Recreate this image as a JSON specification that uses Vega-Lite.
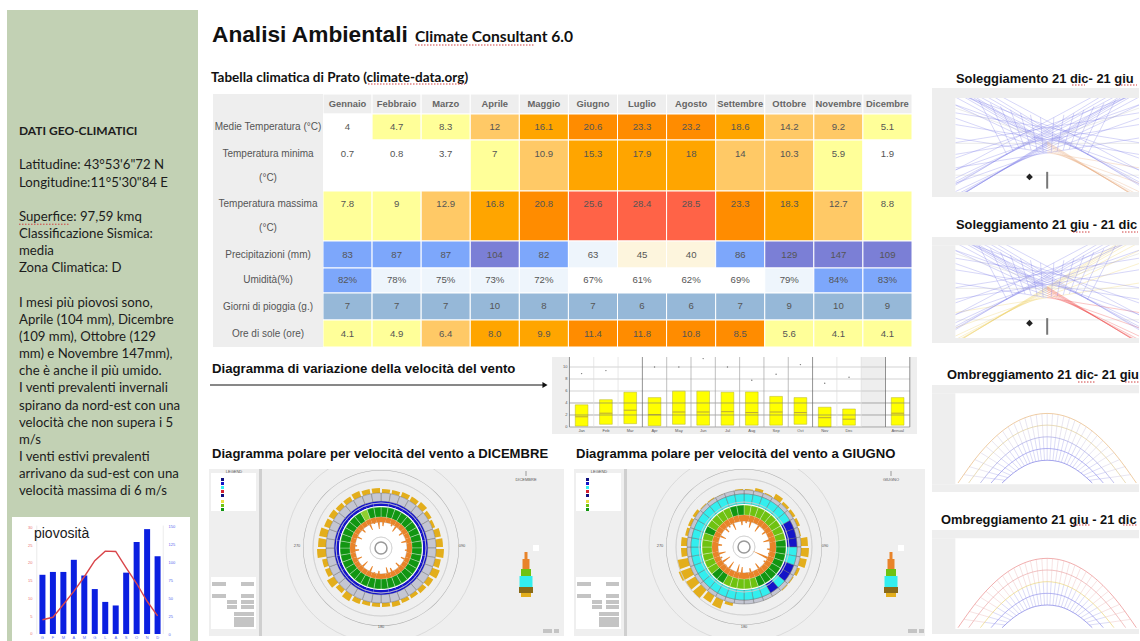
{
"$schema":"https://vega.github.io/schema/vega-lite/v6.json",
"padding":{"left":7,"top":10,"right":0,"bottom":0},
"background":"white",
"spacing":0,
"resolve":{"scale":{"color":"independent","fill":"independent"}},
"config":{"view":{"stroke":null},"concat":{"spacing":0},"text":{"font":"Liberation Sans"}},
"datasets":{
"cells":[
{"r":0,"s":1,"m":"Gennaio","v":"Gennaio","c":"h"},{"r":0,"s":1,"m":"Febbraio","v":"Febbraio","c":"h"},{"r":0,"s":1,"m":"Marzo","v":"Marzo","c":"h"},{"r":0,"s":1,"m":"Aprile","v":"Aprile","c":"h"},{"r":0,"s":1,"m":"Maggio","v":"Maggio","c":"h"},{"r":0,"s":1,"m":"Giugno","v":"Giugno","c":"h"},{"r":0,"s":1,"m":"Luglio","v":"Luglio","c":"h"},{"r":0,"s":1,"m":"Agosto","v":"Agosto","c":"h"},{"r":0,"s":1,"m":"Settembre","v":"Settembre","c":"h"},{"r":0,"s":1,"m":"Ottobre","v":"Ottobre","c":"h"},{"r":0,"s":1,"m":"Novembre","v":"Novembre","c":"h"},{"r":0,"s":1,"m":"Dicembre","v":"Dicembre","c":"h"},
{"r":1,"s":2,"m":"Gennaio","v":"4","c":"w"},{"r":1,"s":2,"m":"Febbraio","v":"4.7","c":"y"},{"r":1,"s":2,"m":"Marzo","v":"8.3","c":"y"},{"r":1,"s":2,"m":"Aprile","v":"12","c":"l"},{"r":1,"s":2,"m":"Maggio","v":"16.1","c":"o"},{"r":1,"s":2,"m":"Giugno","v":"20.6","c":"d"},{"r":1,"s":2,"m":"Luglio","v":"23.3","c":"d"},{"r":1,"s":2,"m":"Agosto","v":"23.2","c":"d"},{"r":1,"s":2,"m":"Settembre","v":"18.6","c":"o"},{"r":1,"s":2,"m":"Ottobre","v":"14.2","c":"l"},{"r":1,"s":2,"m":"Novembre","v":"9.2","c":"l"},{"r":1,"s":2,"m":"Dicembre","v":"5.1","c":"y"},
{"r":2,"s":3,"m":"Gennaio","v":"0.7","c":"w"},{"r":2,"s":3,"m":"Febbraio","v":"0.8","c":"w"},{"r":2,"s":3,"m":"Marzo","v":"3.7","c":"w"},{"r":2,"s":3,"m":"Aprile","v":"7","c":"y"},{"r":2,"s":3,"m":"Maggio","v":"10.9","c":"l"},{"r":2,"s":3,"m":"Giugno","v":"15.3","c":"o"},{"r":2,"s":3,"m":"Luglio","v":"17.9","c":"o"},{"r":2,"s":3,"m":"Agosto","v":"18","c":"o"},{"r":2,"s":3,"m":"Settembre","v":"14","c":"l"},{"r":2,"s":3,"m":"Ottobre","v":"10.3","c":"l"},{"r":2,"s":3,"m":"Novembre","v":"5.9","c":"y"},{"r":2,"s":3,"m":"Dicembre","v":"1.9","c":"w"},
{"r":3,"s":4,"m":"Gennaio","v":"7.8","c":"y"},{"r":3,"s":4,"m":"Febbraio","v":"9","c":"y"},{"r":3,"s":4,"m":"Marzo","v":"12.9","c":"l"},{"r":3,"s":4,"m":"Aprile","v":"16.8","c":"o"},{"r":3,"s":4,"m":"Maggio","v":"20.8","c":"d"},{"r":3,"s":4,"m":"Giugno","v":"25.6","c":"t"},{"r":3,"s":4,"m":"Luglio","v":"28.4","c":"t"},{"r":3,"s":4,"m":"Agosto","v":"28.5","c":"t"},{"r":3,"s":4,"m":"Settembre","v":"23.3","c":"d"},{"r":3,"s":4,"m":"Ottobre","v":"18.3","c":"o"},{"r":3,"s":4,"m":"Novembre","v":"12.7","c":"l"},{"r":3,"s":4,"m":"Dicembre","v":"8.8","c":"y"},
{"r":4,"s":5,"m":"Gennaio","v":"83","c":"b1"},{"r":4,"s":5,"m":"Febbraio","v":"87","c":"b1"},{"r":4,"s":5,"m":"Marzo","v":"87","c":"b1"},{"r":4,"s":5,"m":"Aprile","v":"104","c":"b2"},{"r":4,"s":5,"m":"Maggio","v":"82","c":"b1"},{"r":4,"s":5,"m":"Giugno","v":"63","c":"p"},{"r":4,"s":5,"m":"Luglio","v":"45","c":"cr"},{"r":4,"s":5,"m":"Agosto","v":"40","c":"cr"},{"r":4,"s":5,"m":"Settembre","v":"86","c":"b1"},{"r":4,"s":5,"m":"Ottobre","v":"129","c":"b2"},{"r":4,"s":5,"m":"Novembre","v":"147","c":"b2"},{"r":4,"s":5,"m":"Dicembre","v":"109","c":"b2"},
{"r":5,"s":6,"m":"Gennaio","v":"82%","c":"b1"},{"r":5,"s":6,"m":"Febbraio","v":"78%","c":"p"},{"r":5,"s":6,"m":"Marzo","v":"75%","c":"p"},{"r":5,"s":6,"m":"Aprile","v":"73%","c":"p"},{"r":5,"s":6,"m":"Maggio","v":"72%","c":"p"},{"r":5,"s":6,"m":"Giugno","v":"67%","c":"w"},{"r":5,"s":6,"m":"Luglio","v":"61%","c":"w"},{"r":5,"s":6,"m":"Agosto","v":"62%","c":"w"},{"r":5,"s":6,"m":"Settembre","v":"69%","c":"w"},{"r":5,"s":6,"m":"Ottobre","v":"79%","c":"p"},{"r":5,"s":6,"m":"Novembre","v":"84%","c":"b1"},{"r":5,"s":6,"m":"Dicembre","v":"83%","c":"b1"},
{"r":6,"s":7,"m":"Gennaio","v":"7","c":"g"},{"r":6,"s":7,"m":"Febbraio","v":"7","c":"g"},{"r":6,"s":7,"m":"Marzo","v":"7","c":"g"},{"r":6,"s":7,"m":"Aprile","v":"10","c":"g"},{"r":6,"s":7,"m":"Maggio","v":"8","c":"g"},{"r":6,"s":7,"m":"Giugno","v":"7","c":"g"},{"r":6,"s":7,"m":"Luglio","v":"6","c":"g"},{"r":6,"s":7,"m":"Agosto","v":"6","c":"g"},{"r":6,"s":7,"m":"Settembre","v":"7","c":"g"},{"r":6,"s":7,"m":"Ottobre","v":"9","c":"g"},{"r":6,"s":7,"m":"Novembre","v":"10","c":"g"},{"r":6,"s":7,"m":"Dicembre","v":"9","c":"g"},
{"r":7,"s":8,"m":"Gennaio","v":"4.1","c":"y"},{"r":7,"s":8,"m":"Febbraio","v":"4.9","c":"y"},{"r":7,"s":8,"m":"Marzo","v":"6.4","c":"l"},{"r":7,"s":8,"m":"Aprile","v":"8.0","c":"o"},{"r":7,"s":8,"m":"Maggio","v":"9.9","c":"o"},{"r":7,"s":8,"m":"Giugno","v":"11.4","c":"d"},{"r":7,"s":8,"m":"Luglio","v":"11.8","c":"d"},{"r":7,"s":8,"m":"Agosto","v":"10.8","c":"d"},{"r":7,"s":8,"m":"Settembre","v":"8.5","c":"d"},{"r":7,"s":8,"m":"Ottobre","v":"5.6","c":"y"},{"r":7,"s":8,"m":"Novembre","v":"4.1","c":"y"},{"r":7,"s":8,"m":"Dicembre","v":"4.1","c":"y"}
],
"rain":[
{"n":1,"l":"G","p":83,"c":4},{"n":2,"l":"F","p":87,"c":4.7},{"n":3,"l":"M","p":87,"c":8.3},{"n":4,"l":"A","p":104,"c":12},{"n":5,"l":"M","p":82,"c":16.1},{"n":6,"l":"G","p":63,"c":20.6},{"n":7,"l":"L","p":45,"c":23.3},{"n":8,"l":"A","p":40,"c":23.2},{"n":9,"l":"S","p":86,"c":18.6},{"n":10,"l":"O","p":129,"c":14.2},{"n":11,"l":"N","p":147,"c":9.2},{"n":12,"l":"D","p":109,"c":5.1}
],
"wind":[
{"n":1,"l":"Jan","lo":0.15,"hi":3.7,"med":1.7,"out":8.9},{"n":2,"l":"Feb","lo":0.45,"hi":4.55,"med":2.3,"out":9.4},{"n":3,"l":"Mar","lo":0.55,"hi":5.8,"med":2.8},{"n":4,"l":"Apr","lo":0.2,"hi":4.9,"med":2.05,"out":10},{"n":5,"l":"May","lo":0.45,"hi":6,"med":2.5,"out":10},{"n":6,"l":"Jun","lo":0.3,"hi":6,"med":2.5,"out":11.4},{"n":7,"l":"Jul","lo":0.3,"hi":5.8,"med":2.55,"out":10},{"n":8,"l":"Aug","lo":0.3,"hi":5.85,"med":2.4,"out":7.8},{"n":9,"l":"Sep","lo":0.3,"hi":5.1,"med":2.5,"out":8.8},{"n":10,"l":"Oct","lo":0.45,"hi":4.9,"med":2.4,"out":10.4},{"n":11,"l":"Nov","lo":0,"hi":3.3,"med":1.55,"out":7.3},{"n":12,"l":"Dec","lo":0.3,"hi":3,"med":1.3,"out":8.3},{"n":14,"l":"Annual","lo":0.3,"hi":4.9,"med":2.3}
],
"dic":[
{"d":0,"e":10,"gold":59,"t":22,"g":"s","b":"b"},{"d":10,"e":20,"gold":59,"t":27,"g":"s","b":"b"},{"d":20,"e":30,"gold":60,"t":24,"g":"s","b":"b"},{"d":30,"e":40,"gold":60,"t":20,"g":"s","b":"b"},{"d":40,"e":50,"gold":61,"t":27,"g":"s","b":"b"},{"d":50,"e":60,"gold":59,"t":22,"g":"s","b":"b"},{"d":60,"e":70,"gold":58,"t":26,"g":"s","b":"b"},{"d":70,"e":80,"gold":61,"t":21,"g":"s","b":"b"},{"d":80,"e":90,"gold":62,"t":27,"g":"s","b":"b"},{"d":90,"e":100,"gold":63,"t":24,"g":"s","b":"b"},{"d":100,"e":110,"gold":61,"t":26,"g":"s","b":"b"},{"d":110,"e":120,"gold":63,"t":22,"g":"s","b":"b"},{"d":120,"e":130,"gold":61,"t":27,"g":"s","b":"b"},{"d":130,"e":140,"gold":60,"t":21,"g":"s","b":"b"},{"d":140,"e":150,"gold":59,"t":26,"g":"s","b":"b"},{"d":150,"e":160,"gold":59,"t":22,"g":"s","b":"b"},{"d":160,"e":170,"gold":60,"t":20,"g":"s","b":"b"},{"d":170,"e":180,"gold":59,"t":26,"g":"s","b":"b"},{"d":180,"e":190,"gold":59,"t":23,"g":"s","b":"b"},{"d":190,"e":200,"gold":59,"t":25,"g":"s","b":"b"},{"d":200,"e":210,"gold":60,"t":20,"g":"s","b":"b"},{"d":210,"e":220,"gold":62,"t":27,"g":"s","b":"b"},{"d":220,"e":230,"gold":60,"t":19,"g":"s","b":"b"},{"d":230,"e":240,"gold":63,"t":26,"g":"s","b":"b"},{"d":240,"e":250,"gold":60,"t":21,"g":"s","b":"b"},{"d":250,"e":260,"gold":60,"t":27,"g":"s","b":"b"},{"d":260,"e":270,"gold":64,"t":22,"g":"s","b":"b"},{"d":270,"e":280,"gold":63,"t":24,"g":"s","b":"b"},{"d":280,"e":290,"gold":63,"t":27,"g":"s","b":"b"},{"d":290,"e":300,"gold":61,"t":21,"g":"s","b":"b"},{"d":300,"e":310,"gold":61,"t":26,"g":"s","b":"b"},{"d":310,"e":320,"gold":60,"t":22,"g":"s","b":"b"},{"d":320,"e":330,"gold":60,"t":27,"g":"s","b":"b"},{"d":330,"e":340,"gold":61,"t":20,"g":"c","b":"b"},{"d":340,"e":350,"gold":60,"t":25,"g":"s","b":"b"},{"d":350,"e":360,"gold":60,"t":19,"g":"s","b":"b"}
],
"giu":[
{"d":0,"e":10,"gold":58,"t":24,"g":"c","b":"a"},{"d":10,"e":20,"gold":60,"t":20,"g":"c","b":"a"},{"d":20,"e":30,"gold":58,"t":27,"g":"c","b":"a"},{"d":30,"e":40,"gold":62,"t":19,"g":"c","b":"a"},{"d":40,"e":50,"gold":60,"t":26,"g":"c","b":"a"},{"d":50,"e":60,"gold":60,"t":22,"g":"c","b":"a"},{"d":60,"e":70,"gold":60,"t":27,"g":"c","b":"b"},{"d":70,"e":80,"gold":58,"t":20,"g":"c","b":"b"},{"d":80,"e":90,"gold":64,"t":26,"g":"s","b":"b"},{"d":90,"e":100,"gold":65,"t":23,"g":"s","b":"a"},{"d":100,"e":110,"gold":64,"t":25,"g":"s","b":"a"},{"d":110,"e":120,"gold":60,"t":9,"g":"s","b":"b"},{"d":120,"e":130,"gold":58,"t":24,"g":"s","b":"b"},{"d":130,"e":140,"gold":58,"t":26,"g":"s","b":"a"},{"d":140,"e":150,"gold":55,"t":20,"g":"s","b":"b"},{"d":150,"e":160,"gold":55,"t":27,"g":"s","b":"a"},{"d":160,"e":170,"gold":57,"t":22,"g":"c","b":"a"},{"d":170,"e":180,"gold":57,"t":27,"g":"c","b":"a"},{"d":180,"e":190,"gold":57,"t":20,"g":"c","b":"a"},{"d":190,"e":200,"gold":60,"t":18,"g":"c","b":"a"},{"d":200,"e":210,"gold":66,"t":26,"g":"c","b":"a"},{"d":210,"e":220,"gold":65,"t":18,"g":"s","b":"a"},{"d":220,"e":230,"gold":68,"t":25,"g":"s","b":"a"},{"d":230,"e":240,"gold":68,"t":17,"g":"c","b":"a"},{"d":240,"e":250,"gold":70,"t":24,"g":"c","b":"a"},{"d":250,"e":260,"gold":68,"t":19,"g":"c","b":"a"},{"d":260,"e":270,"gold":63,"t":27,"g":"c","b":"a"},{"d":270,"e":280,"gold":63,"t":22,"g":"c","b":"a"},{"d":280,"e":290,"gold":60,"t":26,"g":"c","b":"a"},{"d":290,"e":300,"gold":60,"t":20,"g":"s","b":"a"},{"d":300,"e":310,"gold":60,"t":27,"g":"c","b":"a"},{"d":310,"e":320,"gold":58,"t":21,"g":"c","b":"a"},{"d":320,"e":330,"gold":58,"t":24,"g":"c","b":"a"},{"d":330,"e":340,"gold":56,"t":19,"g":"c","b":"a"},{"d":340,"e":350,"gold":57,"t":26,"g":"s","b":"a"},{"d":350,"e":360,"gold":58,"t":22,"g":"s","b":"a"}
],
"ui":[
{"a":50,"b":0,"c":53,"d":167,"k":"strip"},{"a":2,"b":4,"c":47,"d":42,"k":"white"},{"a":2,"b":108,"c":47,"d":160,"k":"white"},
{"a":3,"b":113,"c":17,"d":117,"k":"btn"},{"a":32,"b":113,"c":45,"d":117,"k":"btn"},{"a":3,"b":125,"c":17,"d":129,"k":"btn"},{"a":32,"b":125,"c":45,"d":129,"k":"btn"},{"a":18,"b":131,"c":28,"d":135,"k":"btn"},{"a":32,"b":131,"c":45,"d":135,"k":"btn"},{"a":18,"b":136,"c":28,"d":140,"k":"btn"},{"a":32,"b":136,"c":45,"d":140,"k":"btn"},{"a":25,"b":143,"c":45,"d":147,"k":"btn"},{"a":25,"b":148,"c":45,"d":158,"k":"btn"},
{"a":12,"b":9,"c":15,"d":12,"k":"navy"},{"a":12,"b":13,"c":15,"d":16,"k":"blue"},{"a":12,"b":17,"c":15,"d":20,"k":"cyan"},{"a":12,"b":21,"c":15,"d":24,"k":"red"},{"a":12,"b":25,"c":15,"d":28,"k":"navy"},{"a":12,"b":31,"c":15,"d":34,"k":"yel"},{"a":12,"b":35,"c":15,"d":38,"k":"lime"},{"a":12,"b":39,"c":15,"d":42,"k":"grn"},
{"a":315.5,"b":83,"c":318.5,"d":90,"k":"ora"},{"a":313.5,"b":90,"c":320.5,"d":100,"k":"ora"},{"a":312,"b":100,"c":322,"d":107,"k":"lime"},{"a":310.5,"b":107,"c":323.5,"d":118,"k":"cyan"},{"a":310,"b":118,"c":324,"d":124,"k":"brn"},{"a":312,"b":124,"c":322,"d":128,"k":"gold"},{"a":324,"b":76,"c":330,"d":82,"k":"white"},{"a":316,"b":2,"c":318,"d":7,"k":"btn"},{"a":334,"b":160,"c":343,"d":164,"k":"btn"},{"a":345,"b":160,"c":350,"d":164,"k":"btn"}
],
"rings":[{"r":11},{"r":15},{"r":19},{"r":23},{"r":27}],
"sol":[
{"a":-275,"b":308,"c":275,"d":219,"k":"l"},{"a":-275,"b":354,"c":275,"d":160,"k":"l"},{"a":-275,"b":379,"c":275,"d":121,"k":"l"},{"a":-275,"b":390,"c":275,"d":97,"k":"l"},{"a":-275,"b":396,"c":275,"d":82,"k":"l"},{"a":-275,"b":399,"c":275,"d":73,"k":"l"},{"a":-275,"b":400,"c":275,"d":66,"k":"l"},{"a":-275,"b":401,"c":275,"d":60,"k":"l"},
{"a":275,"b":308,"c":0,"d":263,"k":"r"},{"a":275,"b":354,"c":0,"d":257,"k":"r"},{"a":275,"b":379,"c":0,"d":250,"k":"r"},{"a":275,"b":390,"c":0,"d":244,"k":"r"},{"a":275,"b":396,"c":0,"d":239,"k":"r"},{"a":275,"b":399,"c":0,"d":236,"k":"r"},{"a":275,"b":400,"c":0,"d":233,"k":"r"},{"a":275,"b":401,"c":0,"d":230,"k":"r"},
{"a":0,"b":263,"c":-275,"d":219,"k":"u"},{"a":0,"b":257,"c":-275,"d":160,"k":"u"},{"a":0,"b":250,"c":-275,"d":121,"k":"u"},{"a":0,"b":244,"c":-275,"d":97,"k":"u"},{"a":0,"b":239,"c":-275,"d":82,"k":"u"},{"a":0,"b":236,"c":-275,"d":73,"k":"u"},{"a":0,"b":233,"c":-275,"d":66,"k":"u"},{"a":0,"b":230,"c":-275,"d":60,"k":"u"},
{"a":-275,"b":268,"c":275,"d":179,"k":"u"},{"a":-275,"b":314,"c":275,"d":120,"k":"u"},{"a":-275,"b":339,"c":275,"d":81,"k":"u"},{"a":-275,"b":350,"c":275,"d":57,"k":"u"},{"a":-275,"b":356,"c":275,"d":42,"k":"u"},{"a":-275,"b":360,"c":275,"d":26,"k":"u"},
{"a":275,"b":268,"c":-275,"d":179,"k":"u"},{"a":275,"b":314,"c":-275,"d":120,"k":"u"},{"a":275,"b":339,"c":-275,"d":81,"k":"u"},{"a":275,"b":350,"c":-275,"d":57,"k":"u"},{"a":275,"b":356,"c":-275,"d":42,"k":"u"},{"a":275,"b":360,"c":-275,"d":26,"k":"u"},
{"a":-275,"b":233,"c":275,"d":144,"k":"u"},{"a":-275,"b":279,"c":275,"d":85,"k":"u"},{"a":-275,"b":315,"c":275,"d":22,"k":"u"},{"a":275,"b":233,"c":-275,"d":144,"k":"u"},{"a":275,"b":279,"c":-275,"d":85,"k":"u"},{"a":275,"b":315,"c":-275,"d":22,"k":"u"},
{"a":-20,"b":158,"c":-12,"d":262,"k":"u"},{"a":20,"b":158,"c":12,"d":262,"k":"u"},{"a":-50,"b":150,"c":-30,"d":258,"k":"u"},{"a":50,"b":150,"c":30,"d":258,"k":"u"},{"a":-80,"b":145,"c":-48,"d":255,"k":"u"},{"a":80,"b":145,"c":48,"d":255,"k":"u"},{"a":-110,"b":135,"c":-66,"d":252,"k":"u"},{"a":110,"b":135,"c":66,"d":252,"k":"u"},{"a":-140,"b":125,"c":-84,"d":250,"k":"u"},{"a":140,"b":125,"c":84,"d":250,"k":"u"},{"a":-170,"b":115,"c":-102,"d":258,"k":"u"},{"a":170,"b":115,"c":102,"d":258,"k":"u"},{"a":-205,"b":105,"c":-120,"d":270,"k":"u"},{"a":205,"b":105,"c":120,"d":270,"k":"u"},
{"a":-275,"b":235,"c":275,"d":235,"k":"n"},{"a":-275,"b":130,"c":-40,"d":210,"k":"n"},{"a":275,"b":130,"c":40,"d":210,"k":"n"},{"a":-275,"b":330,"c":275,"d":330,"k":"n"}
],
"arch":[
{"n":"A","x":-267,"y":368},{"n":"A","x":-200,"y":277},{"n":"A","x":-134,"y":212},{"n":"A","x":-67,"y":173},{"n":"A","x":0,"y":160},{"n":"A","x":67,"y":173},{"n":"A","x":134,"y":212},{"n":"A","x":200,"y":277},{"n":"A","x":267,"y":368},
{"n":"B","x":-235,"y":368},{"n":"B","x":-176,"y":292},{"n":"B","x":-118,"y":238},{"n":"B","x":-59,"y":206},{"n":"B","x":0,"y":195},{"n":"B","x":59,"y":206},{"n":"B","x":118,"y":238},{"n":"B","x":176,"y":292},{"n":"B","x":235,"y":368},
{"n":"C","x":-200,"y":368},{"n":"C","x":-150,"y":308},{"n":"C","x":-100,"y":265},{"n":"C","x":-50,"y":239},{"n":"C","x":0,"y":230},{"n":"C","x":50,"y":239},{"n":"C","x":100,"y":265},{"n":"C","x":150,"y":308},{"n":"C","x":200,"y":368},
{"n":"D","x":-168,"y":368},{"n":"D","x":-126,"y":323},{"n":"D","x":-84,"y":291},{"n":"D","x":-42,"y":271},{"n":"D","x":0,"y":265},{"n":"D","x":42,"y":271},{"n":"D","x":84,"y":291},{"n":"D","x":126,"y":323},{"n":"D","x":168,"y":368},
{"n":"E","x":-135,"y":368},{"n":"E","x":-101,"y":338},{"n":"E","x":-68,"y":317},{"n":"E","x":-34,"y":304},{"n":"E","x":0,"y":300},{"n":"E","x":34,"y":304},{"n":"E","x":68,"y":317},{"n":"E","x":101,"y":338},{"n":"E","x":135,"y":368}
],
"spokes":[
{"a":0,"b":160,"c":0,"d":230,"k":"su"},{"a":33,"b":163,"c":25,"d":232,"k":"su"},{"a":67,"b":173,"c":50,"d":239,"k":"su"},{"a":100,"b":189,"c":75,"d":249,"k":"su"},{"a":134,"b":212,"c":100,"d":265,"k":"su"},{"a":167,"b":241,"c":125,"d":284,"k":"su"},{"a":200,"b":277,"c":150,"d":308,"k":"su"},{"a":234,"b":319,"c":175,"d":336,"k":"su"},
{"a":-33,"b":163,"c":-25,"d":232,"k":"su"},{"a":-67,"b":173,"c":-50,"d":239,"k":"su"},{"a":-100,"b":189,"c":-75,"d":249,"k":"su"},{"a":-134,"b":212,"c":-100,"d":265,"k":"su"},{"a":-167,"b":241,"c":-125,"d":284,"k":"su"},{"a":-200,"b":277,"c":-150,"d":308,"k":"su"},{"a":-234,"b":319,"c":-175,"d":336,"k":"su"},
{"a":16,"b":161,"c":12,"d":231,"k":"su"},{"a":50,"b":168,"c":37,"d":235,"k":"su"},{"a":83,"b":181,"c":62,"d":244,"k":"su"},{"a":117,"b":200,"c":87,"d":257,"k":"su"},{"a":150,"b":226,"c":112,"d":274,"k":"su"},{"a":183,"b":259,"c":137,"d":296,"k":"su"},{"a":217,"b":298,"c":162,"d":322,"k":"su"},{"a":250,"b":343,"c":187,"d":352,"k":"su"},
{"a":-16,"b":161,"c":-12,"d":231,"k":"su"},{"a":-50,"b":168,"c":-37,"d":235,"k":"su"},{"a":-83,"b":181,"c":-62,"d":244,"k":"su"},{"a":-117,"b":200,"c":-87,"d":257,"k":"su"},{"a":-150,"b":226,"c":-112,"d":274,"k":"su"},{"a":-183,"b":259,"c":-137,"d":296,"k":"su"},{"a":-217,"b":298,"c":-162,"d":322,"k":"su"},{"a":-250,"b":343,"c":-187,"d":352,"k":"su"},
{"a":0,"b":230,"c":0,"d":300,"k":"sl"},{"a":25,"b":232,"c":17,"d":301,"k":"sl"},{"a":50,"b":239,"c":34,"d":304,"k":"sl"},{"a":75,"b":249,"c":51,"d":310,"k":"sl"},{"a":100,"b":265,"c":68,"d":317,"k":"sl"},{"a":125,"b":284,"c":84,"d":327,"k":"sl"},{"a":150,"b":308,"c":101,"d":338,"k":"sl"},{"a":175,"b":336,"c":118,"d":352,"k":"sl"},
{"a":-25,"b":232,"c":-17,"d":301,"k":"sl"},{"a":-50,"b":239,"c":-34,"d":304,"k":"sl"},{"a":-75,"b":249,"c":-51,"d":310,"k":"sl"},{"a":-100,"b":265,"c":-68,"d":317,"k":"sl"},{"a":-125,"b":284,"c":-84,"d":327,"k":"sl"},{"a":-150,"b":308,"c":-101,"d":338,"k":"sl"},{"a":-175,"b":336,"c":-118,"d":352,"k":"sl"},
{"a":12,"b":231,"c":8,"d":300,"k":"sl"},{"a":37,"b":235,"c":25,"d":302,"k":"sl"},{"a":62,"b":244,"c":42,"d":307,"k":"sl"},{"a":87,"b":257,"c":59,"d":313,"k":"sl"},{"a":112,"b":274,"c":76,"d":322,"k":"sl"},{"a":137,"b":296,"c":92,"d":332,"k":"sl"},{"a":162,"b":322,"c":109,"d":345,"k":"sl"},{"a":187,"b":352,"c":126,"d":360,"k":"sl"},
{"a":-12,"b":231,"c":-8,"d":300,"k":"sl"},{"a":-37,"b":235,"c":-25,"d":302,"k":"sl"},{"a":-62,"b":244,"c":-42,"d":307,"k":"sl"},{"a":-87,"b":257,"c":-59,"d":313,"k":"sl"},{"a":-112,"b":274,"c":-76,"d":322,"k":"sl"},{"a":-137,"b":296,"c":-92,"d":332,"k":"sl"},{"a":-162,"b":322,"c":-109,"d":345,"k":"sl"},{"a":-187,"b":352,"c":-126,"d":360,"k":"sl"}
]
},
"hconcat":[
{"spacing":0,"resolve":{"scale":{"color":"independent","fill":"independent"}},"vconcat":[
 {"width":191,"height":507,"view":{"fill":"#c2d1b4"},
  "layer":[
  {"data":{"values":[{"t":"Latitudine: 43°53'6\"72 N","n":2,"c":0},{"t":"Longitudine:11°5'30\"84 E","n":3,"c":0},{"t":"Superfice: 97,59 kmq","n":5,"c":0},{"t":"Classificazione Sismica:","n":6,"c":0},{"t":"media","n":7,"c":0},{"t":"Zona Climatica: D","n":8,"c":0},{"t":"I mesi più piovosi sono,","n":10,"c":0},{"t":"Aprile (104 mm), Dicembre","n":11,"c":0},{"t":"(109 mm), Ottobre (129","n":12,"c":0},{"t":"mm) e Novembre 147mm),","n":13,"c":0},{"t":"che è anche il più umido.","n":14,"c":0},{"t":"I venti prevalenti invernali","n":15,"c":0},{"t":"spirano da nord-est con una","n":16,"c":0},{"t":"velocità che non supera i 5","n":17,"c":0},{"t":"m/s","n":18,"c":0},{"t":"I venti estivi prevalenti","n":19,"c":0},{"t":"arrivano da sud-est con una","n":20,"c":0},{"t":"velocità massima di 6 m/s","n":21,"c":0}]},
  "mark":{"type":"text","font":"Lato","fontSize":13.2,"align":"left","baseline":"middle","color":"#1c1c1c"},
  "encoding":{"text":{"field":"t"},
   "x":{"field":"c","type":"quantitative","scale":{"domain":[-12,179]},"axis":null},
   "y":{"field":"n","type":"quantitative","scale":{"domain":[22.5,-7.06]},"axis":null}}},
  {"data":{"values":[{"t":"DATI GEO-CLIMATICI","n":0,"c":0}]},
  "mark":{"type":"text","font":"Lato","fontWeight":700,"fontSize":12,"align":"left","baseline":"middle","color":"#1c1c1c"},
  "encoding":{"text":{"field":"t"},
   "x":{"field":"c","type":"quantitative","scale":{"domain":[-12,179]},"axis":null},
   "y":{"field":"n","type":"quantitative","scale":{"domain":[22.5,-7.06]},"axis":null}}},
  {"data":{"values":[{}]},"mark":{"type":"rule","color":"#d04040","strokeWidth":1,"strokeDash":[1.5,1.5]},"encoding":{"x":{"datum":0,"type":"quantitative","scale":{"domain":[-12,179]},"axis":null},"x2":{"datum":51},"y":{"datum":5.43,"type":"quantitative","scale":{"domain":[22.5,-7.06]},"axis":null}}}
  ]},
 {"spacing":0,"resolve":{"scale":{"color":"independent","fill":"independent"}},"hconcat":[
  {"width":5,"height":124,"data":{"values":[{}]},"mark":{"type":"rect","color":"#c2d1b4"},"encoding":{}},
  {"width":178,"height":124,"view":{"fill":"white"},"data":{"name":"rain"},
   "resolve":{"scale":{"y":"independent"}},
   "layer":[
    {"data":{"values":[{"v":0.46},{"v":12.54}]},"mark":{"type":"rule","color":"#dddddd","strokeWidth":0.6},"encoding":{"x":{"field":"v","type":"quantitative","scale":{"domain":[-1.43,14.62]},"axis":null},"y":{"datum":0,"type":"quantitative","scale":{"domain":[-9.8,164]},"axis":null},"y2":{"datum":152}}},
    {"mark":{"type":"bar","orient":"vertical","size":6,"color":"#0b1fe0"},"encoding":{"x":{"field":"n","type":"quantitative","scale":{"domain":[-1.43,14.62]},"axis":null},
     "y":{"field":"p","type":"quantitative","scale":{"domain":[-9.8,164]},"axis":{"values":[0,25,50,75,100,125,150],"orient":"right","offset":-22,"title":null,"domain":false,"ticks":false,"grid":false,"labelFontSize":4,"labelColor":"#5566ee","labelPadding":0}}}},
    {"mark":{"type":"line","color":"#d9454a","strokeWidth":1.4},"encoding":{"x":{"field":"n","type":"quantitative","scale":{"domain":[-1.43,14.62]},"axis":null},
     "y":{"field":"c","type":"quantitative","scale":{"domain":[-1.97,32.9]},"axis":{"values":[0,5,10,15,20,25,30],"orient":"left","offset":-20,"title":null,"domain":false,"ticks":false,"grid":false,"labelFontSize":4,"labelColor":"#e87070","labelPadding":0}}}},
    {"mark":{"type":"text","fontSize":4,"color":"#5566ee"},"encoding":{"text":{"field":"l"},"x":{"field":"n","type":"quantitative","scale":{"domain":[-1.43,14.62]},"axis":null},"y":{"datum":-5,"type":"quantitative","scale":{"domain":[-9.8,164]},"axis":null}}},
    {"data":{"values":[{"t":"piovosità"}]},"mark":{"type":"text","fontSize":14,"align":"left","baseline":"middle","color":"#1a1a1a"},"encoding":{"text":{"field":"t"},"x":{"datum":0.19,"type":"quantitative","scale":{"domain":[-1.43,14.62]},"axis":null},"y":{"datum":140,"type":"quantitative","scale":{"domain":[-9.8,164]},"axis":null}}}
   ]},
  {"width":8,"height":124,"data":{"values":[{}]},"mark":{"type":"rect","color":"#c2d1b4"},"encoding":{}}
 ]}
]},
{"width":11,"height":10,"data":{"values":[{}]},"mark":{"type":"rect","opacity":0},"encoding":{}},
{"spacing":0,"resolve":{"scale":{"color":"independent","fill":"independent"}},"vconcat":[
 {"width":716,"height":84,
  "layer":[
   {"data":{"values":[{"t":"Analisi Ambientali","x":3,"y":25}]},"mark":{"type":"text","font":"Liberation Sans","fontWeight":700,"fontSize":22.7,"align":"left","baseline":"middle","color":"#111111"},"encoding":{"text":{"field":"t"},"x":{"field":"x","type":"quantitative","scale":{"domain":[0,716]},"axis":null},"y":{"field":"y","type":"quantitative","scale":{"domain":[84,0]},"axis":null}}},
   {"data":{"values":[{"t":"Climate Consultant 6.0","x":206,"y":27}]},"mark":{"type":"text","font":"Lato","fontWeight":700,"fontSize":15.6,"align":"left","baseline":"middle","color":"#111111"},"encoding":{"text":{"field":"t"},"x":{"field":"x","type":"quantitative","scale":{"domain":[0,716]},"axis":null},"y":{"field":"y","type":"quantitative","scale":{"domain":[84,0]},"axis":null}}},
   {"data":{"values":[{"t":"Tabella climatica di Prato (climate-data.org)","x":2,"y":68}]},"mark":{"type":"text","font":"Lato","fontWeight":700,"fontSize":13.5,"align":"left","baseline":"middle","color":"#111111"},"encoding":{"text":{"field":"t"},"x":{"field":"x","type":"quantitative","scale":{"domain":[0,716]},"axis":null},"y":{"field":"y","type":"quantitative","scale":{"domain":[84,0]},"axis":null}}},
   {"data":{"values":[{"a":206,"c":326,"y":35},{"a":159,"c":256,"y":74}]},"mark":{"type":"rule","color":"#d04040","strokeWidth":1,"strokeDash":[1.5,1.5]},"encoding":{"x":{"field":"a","type":"quantitative","scale":{"domain":[0,716]},"axis":null},"x2":{"field":"c"},"y":{"field":"y","type":"quantitative","scale":{"domain":[84,0]},"axis":null}}}
  ]},
 {"spacing":0,"resolve":{"scale":{"color":"independent","fill":"independent"}},"hconcat":[
  {"width":114,"height":253,
   "layer":[
    {"data":{"values":[{}]},"mark":{"type":"rect","color":"#eeeeee"},"encoding":{"x":{"datum":4,"type":"quantitative","scale":{"domain":[0,114]},"axis":null},"x2":{"datum":114}}},
    {"data":{"values":[{"t":"Medie Temperatura (°C)","l":0},{"t":"Temperatura minima","l":1},{"t":"(°C)","l":2},{"t":"Temperatura massima","l":3},{"t":"(°C)","l":4},{"t":"Precipitazioni (mm)","l":5},{"t":"Umidità(%)","l":6},{"t":"Giorni di pioggia (g.)","l":7},{"t":"Ore di sole (ore)","l":8}]},
     "mark":{"type":"text","fontSize":10,"color":"#555555","baseline":"middle"},
     "encoding":{"text":{"field":"t"},"x":{"datum":59,"type":"quantitative","scale":{"domain":[0,114]},"axis":null},
      "y":{"field":"l","type":"quantitative","scale":{"domain":[0,1,2,3,4,5,6,7,8],"range":[33,60,84,110,134,161,186,213,240]},"axis":null}}}
   ]},
  {"width":589,"height":253,"data":{"name":"cells"},
   "resolve":{"scale":{"y":"independent"}},
   "layer":[
    {"mark":{"type":"rect","clip":true,"stroke":"white","strokeWidth":1},
     "encoding":{"x":{"field":"m","type":"nominal","sort":null,"scale":{"paddingInner":0,"paddingOuter":0},"axis":null},
      "y":{"field":"r","type":"quantitative","scale":{"domain":[0,1,2,3,4,5,6,7,8],"range":[0,20,46,97,147,174,199,226,253]},"axis":null},
      "y2":{"field":"s"},
      "color":{"field":"c","type":"nominal","legend":null,"scale":{"domain":["h","w","y","l","o","d","t","b1","b2","p","cr","g"],"range":["#eeeeee","#ffffff","#ffff99","#ffc966","#ffa500","#ff8c00","#ff6347","#7da7fb","#7b7fd6","#eef5fc","#fdf5dd","#96b8d8"]}}}},
    {"transform":[{"filter":"datum.r>0"}],"mark":{"type":"text","fontSize":9.6,"color":"#555555","baseline":"middle"},
     "encoding":{"text":{"field":"v"},"x":{"field":"m","type":"nominal","sort":null,"scale":{"paddingInner":0,"paddingOuter":0},"axis":null},
      "y":{"field":"r","type":"quantitative","scale":{"domain":[0,1,2,3,4,5,6,7],"range":[10,33,60,110,161,186,212,240]},"axis":null}}},
    {"transform":[{"filter":"datum.r==0"}],"mark":{"type":"text","fontSize":9.4,"fontWeight":700,"color":"#666666","baseline":"middle"},
     "encoding":{"text":{"field":"v"},"x":{"field":"m","type":"nominal","sort":null,"scale":{"paddingInner":0,"paddingOuter":0},"axis":null},
      "y":{"field":"r","type":"quantitative","scale":{"domain":[0,1,2,3,4,5,6,7],"range":[10,33,60,110,161,186,212,240]},"axis":null}}}
   ]}
 ]},
 {"spacing":0,"resolve":{"scale":{"color":"independent","fill":"independent"}},"hconcat":[
  {"width":343,"height":86,
   "layer":[
    {"data":{"values":[{"t":"Diagramma di variazione della velocità del vento"}]},"mark":{"type":"text","fontWeight":700,"fontSize":13.2,"align":"left","baseline":"middle","color":"#111111"},"encoding":{"text":{"field":"t"},"x":{"datum":3,"type":"quantitative","scale":{"domain":[0,343]},"axis":null},"y":{"datum":22,"type":"quantitative","scale":{"domain":[86,0]},"axis":null}}},
    {"data":{"values":[{}]},"mark":{"type":"rule","color":"#111111","strokeWidth":1},"encoding":{"x":{"datum":1,"type":"quantitative","scale":{"domain":[0,343]},"axis":null},"x2":{"datum":335},"y":{"datum":38,"type":"quantitative","scale":{"domain":[86,0]},"axis":null}}},
    {"data":{"values":[{}]},"mark":{"type":"point","shape":"triangle-right","filled":true,"size":35,"color":"#111111","opacity":1},"encoding":{"x":{"datum":336,"type":"quantitative","scale":{"domain":[0,343]},"axis":null},"y":{"datum":38,"type":"quantitative","scale":{"domain":[86,0]},"axis":null}}}
   ]},
  {"spacing":0,"resolve":{"scale":{"color":"independent","fill":"independent"}},"vconcat":[
   {"width":365,"height":9,"data":{"values":[{}]},"mark":{"type":"rect","opacity":0},"encoding":{}},
   {"width":365,"height":77,"view":{"fill":"#eeeeee"},"data":{"name":"wind"},
    "resolve":{"scale":{"color":"independent"}},
    "layer":[
     {"data":{"values":[{}]},"mark":{"type":"rect","color":"white"},"encoding":{"x":{"datum":0.5,"type":"quantitative","scale":{"domain":[-0.012,14.59]},"axis":null},"x2":{"datum":14.5},"y":{"datum":0,"type":"quantitative","scale":{"domain":[-1.17,11.67]},"axis":null},"y2":{"datum":11.67}}},
     {"data":{"values":[{}]},"mark":{"type":"rect","color":"#eeeeee"},"encoding":{"x":{"datum":12.5,"type":"quantitative","scale":{"domain":[-0.012,14.59]},"axis":null},"x2":{"datum":13.5},"y":{"datum":0,"type":"quantitative","scale":{"domain":[-1.17,11.67]},"axis":null},"y2":{"datum":11.67}}},
     {"mark":{"type":"bar","orient":"vertical","size":12.7,"color":"#ffff00","stroke":"#b5b52a","strokeWidth":0.5},"encoding":{"x":{"field":"n","type":"quantitative","scale":{"domain":[-0.012,14.59]},"axis":null},"y":{"field":"lo","type":"quantitative","scale":{"domain":[-1.17,11.67]},"axis":null},"y2":{"field":"hi"}}},
     {"mark":{"type":"tick","orient":"horizontal","size":12.7,"thickness":1,"color":"#b8a63a","opacity":1},"encoding":{"x":{"field":"n","type":"quantitative","scale":{"domain":[-0.012,14.59]},"axis":null},"y":{"field":"med","type":"quantitative","scale":{"domain":[-1.17,11.67]},"axis":null}}},
     {"data":{"values":[{"v":0,"k":"d"},{"v":2,"k":"d"},{"v":4,"k":"d"},{"v":6,"k":"l"},{"v":8,"k":"l"},{"v":10,"k":"l"}]},"mark":{"type":"rule","strokeWidth":0.6},"encoding":{"x":{"datum":0.5,"type":"quantitative","scale":{"domain":[-0.012,14.59]},"axis":null},"x2":{"datum":14.5},"y":{"field":"v","type":"quantitative","scale":{"domain":[-1.17,11.67]},"axis":null},"color":{"field":"k","type":"nominal","legend":null,"scale":{"domain":["d","l"],"range":["#777777","#b5b5b5"]}}}},
     {"data":{"values":[{"v":0.5,"k":"d"},{"v":1.5,"k":"n"},{"v":2.5,"k":"n"},{"v":3.5,"k":"d"},{"v":4.5,"k":"l"},{"v":5.5,"k":"l"},{"v":6.5,"k":"l"},{"v":7.5,"k":"l"},{"v":8.5,"k":"l"},{"v":9.5,"k":"l"},{"v":10.5,"k":"d"},{"v":11.5,"k":"n"},{"v":12.5,"k":"n"},{"v":13.5,"k":"d"},{"v":14.5,"k":"d"}]},"mark":{"type":"rule","strokeWidth":0.7},"encoding":{"x":{"field":"v","type":"quantitative","scale":{"domain":[-0.012,14.59]},"axis":null},"y":{"datum":0,"type":"quantitative","scale":{"domain":[-1.17,11.67]},"axis":null},"y2":{"datum":11.67},"color":{"field":"k","type":"nominal","legend":null,"scale":{"domain":["d","l","n"],"range":["#666666","#a5a5a5","#dddddd"]}}}},
     {"transform":[{"filter":"isValid(datum.out)"}],"mark":{"type":"circle","size":2,"color":"#777777","opacity":1},"encoding":{"x":{"field":"n","type":"quantitative","scale":{"domain":[-0.012,14.59]},"axis":null},"y":{"field":"out","type":"quantitative","scale":{"domain":[-1.17,11.67]},"axis":null}}},
     {"mark":{"type":"text","fontSize":4,"color":"#555555"},"encoding":{"text":{"field":"l"},"x":{"field":"n","type":"quantitative","scale":{"domain":[-0.012,14.59]},"axis":null},"y":{"datum":-0.6,"type":"quantitative","scale":{"domain":[-1.17,11.67]},"axis":null}}},
     {"data":{"values":[{"v":0},{"v":2},{"v":4},{"v":6},{"v":8},{"v":10}]},"mark":{"type":"text","fontSize":4,"color":"#555555","align":"right"},"encoding":{"text":{"field":"v"},"x":{"datum":0.42,"type":"quantitative","scale":{"domain":[-0.012,14.59]},"axis":null},"y":{"field":"v","type":"quantitative","scale":{"domain":[-1.17,11.67]},"axis":null}}}
    ]}
  ]}
 ]},
 {"spacing":10,"resolve":{"scale":{"color":"independent","fill":"independent"}},"hconcat":[
  {"spacing":0,"resolve":{"scale":{"color":"independent","fill":"independent"}},"vconcat":[
   {"width":355,"height":35,"data":{"values":[{"t":"Diagramma polare per velocità del vento a DICEMBRE"}]},"mark":{"type":"text","fontWeight":700,"fontSize":13.1,"align":"left","baseline":"middle","color":"#111111"},"encoding":{"text":{"field":"t"},"x":{"datum":3,"type":"quantitative","scale":{"domain":[0,355]},"axis":null},"y":{"datum":20,"type":"quantitative","scale":{"domain":[35,0]},"axis":null}}},
   {"width":355,"height":167,"view":{"fill":"#efefef"},
    "layer":[
     {"data":{"name":"ui"},"mark":{"type":"rect"},"encoding":{"x":{"field":"a","type":"quantitative","scale":{"domain":[0,355]},"axis":null},"x2":{"field":"c"},"y":{"field":"b","type":"quantitative","scale":{"domain":[167,0]},"axis":null},"y2":{"field":"d"},"color":{"field":"k","type":"nominal","legend":null,"scale":{"domain":["strip","white","btn","navy","blue","cyan","red","yel","lime","grn","ora","brn","gold"],"range":["#cfcfcf","#ffffff","#c4c4c4","#101080","#1414c8","#33eeee","#d02030","#e8e040","#6fc211","#129612","#e8842a","#8a6a18","#e3ae1c"]}}}},
     {"encoding":{"x":{"datum":172,"type":"quantitative","scale":{"domain":[0,355]},"axis":null},"y":{"datum":79,"type":"quantitative","scale":{"domain":[167,0]},"axis":null}},
      "layer":[
     {"data":{"values":[{}]},"mark":{"type":"arc","clip":true,"theta":0,"theta2":6.2832,"radius":78,"radius2":77.5,"fill":"#aaaaaa"}},
     {"data":{"name":"dic"},"mark":{"type":"arc","clip":true,"radius2":55,"fill":"#e3ae1c","padAngle":0.025},"encoding":{"theta":{"field":"d","type":"quantitative","scale":{"domain":[0,360],"range":[0,6.2832]}},"theta2":{"field":"e"},"radius":{"field":"gold","type":"quantitative","scale":null}}},
     {"data":{"name":"dic"},"mark":{"type":"arc","clip":true,"radius":55,"radius2":46.7,"fill":"#c4c6d2","stroke":"#666666","strokeWidth":0.4},"encoding":{"theta":{"field":"d","type":"quantitative","scale":{"domain":[0,360],"range":[0,6.2832]}},"theta2":{"field":"e"}}},
     {"data":{"name":"dic"},"mark":{"type":"arc","clip":true,"radius":46.7,"radius2":42,"fill":"#1414c8"},"encoding":{"theta":{"field":"d","type":"quantitative","scale":{"domain":[0,360],"range":[0,6.2832]}},"theta2":{"field":"e"}}},
     {"data":{"values":[{}]},"mark":{"type":"arc","clip":true,"theta":0,"theta2":6.2832,"radius":42,"radius2":0,"fill":"white"}},
     {"data":{"name":"rings"},"mark":{"type":"arc","clip":true,"theta":0,"theta2":6.2832,"fill":null,"stroke":"#cccccc","strokeWidth":0.6},"encoding":{"radius":{"field":"r","type":"quantitative","scale":null}}},
     {"data":{"name":"dic"},"mark":{"type":"arc","clip":true,"radius":41,"radius2":31,"stroke":"#ffffff","strokeWidth":0.3},"encoding":{"theta":{"field":"d","type":"quantitative","scale":{"domain":[0,360],"range":[0,6.2832]}},"theta2":{"field":"e"},"fill":{"field":"g","type":"nominal","legend":null,"scale":{"domain":["s","c"],"range":["#129612","#8fd030"]}}}},
     {"data":{"name":"dic"},"mark":{"type":"arc","clip":true,"radius":31,"radius2":26,"fill":"#e8842a"},"encoding":{"theta":{"field":"d","type":"quantitative","scale":{"domain":[0,360],"range":[0,6.2832]}},"theta2":{"field":"e"}}},
     {"data":{"name":"dic"},"mark":{"type":"arc","clip":true,"radius2":26,"fill":"#e8842a","padAngle":0.08},"encoding":{"theta":{"field":"d","type":"quantitative","scale":{"domain":[0,360],"range":[0,6.2832]}},"theta2":{"field":"e"},"radius":{"field":"t","type":"quantitative","scale":null}}},
     {"data":{"values":[{}]},"mark":{"type":"arc","clip":true,"theta":0,"theta2":6.2832,"radius":6,"radius2":0,"fill":"white","stroke":"#999999","strokeWidth":1.5}}
      ]},
     {"data":{"values":[{"t":"LEGEND","x":25,"y":3},{"t":"270","x":88,"y":77},{"t":"090","x":253,"y":77},{"t":"180","x":172,"y":158},{"t":"DICEMBRE","x":317,"y":11}]},"mark":{"type":"text","fontSize":4,"color":"#555555"},"encoding":{"text":{"field":"t"},"x":{"field":"x","type":"quantitative","scale":{"domain":[0,355]},"axis":null},"y":{"field":"y","type":"quantitative","scale":{"domain":[167,0]},"axis":null}}}
    ]}
  ]},
  {"spacing":0,"resolve":{"scale":{"color":"independent","fill":"independent"}},"vconcat":[
   {"width":351,"height":35,"data":{"values":[{"t":"Diagramma polare per velocità del vento a GIUGNO"}]},"mark":{"type":"text","fontWeight":700,"fontSize":13.1,"align":"left","baseline":"middle","color":"#111111"},"encoding":{"text":{"field":"t"},"x":{"datum":2,"type":"quantitative","scale":{"domain":[0,351]},"axis":null},"y":{"datum":20,"type":"quantitative","scale":{"domain":[35,0]},"axis":null}}},
   {"width":351,"height":167,"view":{"fill":"#efefef"},
    "resolve":{"scale":{"fill":"independent"}},
    "layer":[
     {"data":{"name":"ui"},"mark":{"type":"rect"},"encoding":{"x":{"field":"a","type":"quantitative","scale":{"domain":[0,351]},"axis":null},"x2":{"field":"c"},"y":{"field":"b","type":"quantitative","scale":{"domain":[167,0]},"axis":null},"y2":{"field":"d"},"color":{"field":"k","type":"nominal","legend":null,"scale":{"domain":["strip","white","btn","navy","blue","cyan","red","yel","lime","grn","ora","brn","gold"],"range":["#cfcfcf","#ffffff","#c4c4c4","#101080","#1414c8","#33eeee","#d02030","#e8e040","#6fc211","#129612","#e8842a","#8a6a18","#e3ae1c"]}}}},
     {"encoding":{"x":{"datum":170,"type":"quantitative","scale":{"domain":[0,351]},"axis":null},"y":{"datum":78,"type":"quantitative","scale":{"domain":[167,0]},"axis":null}},
      "resolve":{"scale":{"fill":"independent"}},
      "layer":[
     {"data":{"values":[{}]},"mark":{"type":"arc","clip":true,"theta":0,"theta2":6.2832,"radius":78,"radius2":77.5,"fill":"#aaaaaa"}},
     {"data":{"name":"giu"},"mark":{"type":"arc","clip":true,"radius2":57,"fill":"#e3ae1c","padAngle":0.025},"encoding":{"theta":{"field":"d","type":"quantitative","scale":{"domain":[0,360],"range":[0,6.2832]}},"theta2":{"field":"e"},"radius":{"field":"gold","type":"quantitative","scale":null}}},
     {"data":{"name":"giu"},"mark":{"type":"arc","clip":true,"radius":57,"radius2":53,"fill":"#c4c6d2","stroke":"#666666","strokeWidth":0.4},"encoding":{"theta":{"field":"d","type":"quantitative","scale":{"domain":[0,360],"range":[0,6.2832]}},"theta2":{"field":"e"}}},
     {"data":{"name":"giu"},"mark":{"type":"arc","clip":true,"radius":53,"radius2":43,"stroke":"#666666","strokeWidth":0.4},"encoding":{"theta":{"field":"d","type":"quantitative","scale":{"domain":[0,360],"range":[0,6.2832]}},"theta2":{"field":"e"},"fill":{"field":"b","type":"nominal","legend":null,"scale":{"domain":["a","b"],"range":["#33eeee","#1414c8"]}}}},
     {"data":{"values":[{}]},"mark":{"type":"arc","clip":true,"theta":0,"theta2":6.2832,"radius":43,"radius2":0,"fill":"white"}},
     {"data":{"name":"rings"},"mark":{"type":"arc","clip":true,"theta":0,"theta2":6.2832,"fill":null,"stroke":"#cccccc","strokeWidth":0.6},"encoding":{"radius":{"field":"r","type":"quantitative","scale":null}}},
     {"data":{"name":"giu"},"mark":{"type":"arc","clip":true,"radius":42,"radius2":32,"stroke":"#ffffff","strokeWidth":0.3},"encoding":{"theta":{"field":"d","type":"quantitative","scale":{"domain":[0,360],"range":[0,6.2832]}},"theta2":{"field":"e"},"fill":{"field":"g","type":"nominal","legend":null,"scale":{"domain":["s","c"],"range":["#129612","#6fc211"]}}}},
     {"data":{"name":"giu"},"mark":{"type":"arc","clip":true,"radius":32,"radius2":26,"fill":"#e8842a"},"encoding":{"theta":{"field":"d","type":"quantitative","scale":{"domain":[0,360],"range":[0,6.2832]}},"theta2":{"field":"e"}}},
     {"data":{"name":"giu"},"mark":{"type":"arc","clip":true,"radius2":26,"fill":"#e8842a","padAngle":0.08},"encoding":{"theta":{"field":"d","type":"quantitative","scale":{"domain":[0,360],"range":[0,6.2832]}},"theta2":{"field":"e"},"radius":{"field":"t","type":"quantitative","scale":null}}},
     {"data":{"values":[{}]},"mark":{"type":"arc","clip":true,"theta":0,"theta2":6.2832,"radius":6,"radius2":0,"fill":"white","stroke":"#999999","strokeWidth":1.5}}
      ]},
     {"data":{"values":[{"t":"LEGEND","x":25,"y":3},{"t":"270","x":86,"y":77},{"t":"090","x":251,"y":77},{"t":"180","x":170,"y":158},{"t":"GIUGNO","x":317,"y":11}]},"mark":{"type":"text","fontSize":4,"color":"#555555"},"encoding":{"text":{"field":"t"},"x":{"field":"x","type":"quantitative","scale":{"domain":[0,351]},"axis":null},"y":{"field":"y","type":"quantitative","scale":{"domain":[167,0]},"axis":null}}}
    ]}
  ]}
 ]}
]},
{"width":7,"height":10,"data":{"values":[{}]},"mark":{"type":"rect","opacity":0},"encoding":{}},
{"spacing":0,"resolve":{"scale":{"color":"independent","fill":"independent"}},"vconcat":[
 {"width":207,"height":78,"layer":[
   {"data":{"values":[{"t":"Soleggiamento 21 dic- 21 giu"}]},"mark":{"type":"text","clip":true,"fontWeight":700,"fontSize":12.9,"align":"left","baseline":"middle","color":"#111111"},"encoding":{"text":{"field":"t"},"x":{"datum":24,"type":"quantitative","scale":{"domain":[0,207]},"axis":null},"y":{"datum":69,"type":"quantitative","scale":{"domain":[78,0]},"axis":null}}},
   {"data":{"values":[{"a":140,"c":153},{"a":186,"c":205}]},"mark":{"type":"rule","color":"#d04040","strokeWidth":1,"strokeDash":[1.5,1.5]},"encoding":{"x":{"field":"a","type":"quantitative","scale":{"domain":[0,207]},"axis":null},"x2":{"field":"c"},"y":{"datum":75,"type":"quantitative","scale":{"domain":[78,0]},"axis":null}}}
 ]},
 {"width":207,"height":109,"data":{"name":"sol"},
  "layer":[
   {"mark":{"type":"rule","clip":true,"strokeWidth":0.5,"opacity":0.6},"encoding":{"x":{"field":"a","type":"quantitative","scale":{"domain":[-345,275]},"axis":null},"y":{"field":"b","type":"quantitative","scale":{"domain":[395,70]},"axis":null},"x2":{"field":"c"},"y2":{"field":"d"},"color":{"field":"k","type":"nominal","legend":null,"scale":{"domain":["l","r","u","n"],"range":["#7a7ae6","#e6a878","#7a7ae6","#bbbbbb"]}}}},
   {"data":{"values":[{"a":-345,"b":70,"c":275,"d":100},{"a":-345,"b":100,"c":-275,"d":380},{"a":-345,"b":380,"c":275,"d":395}]},"mark":{"type":"rect","color":"#eeeeee"},"encoding":{"x":{"field":"a","type":"quantitative","scale":{"domain":[-345,275]},"axis":null},"x2":{"field":"c"},"y":{"field":"b","type":"quantitative","scale":{"domain":[395,70]},"axis":null},"y2":{"field":"d"}}},
   {"data":{"values":[{}]},"mark":{"type":"rule","color":"#777777","strokeWidth":2},"encoding":{"x":{"datum":0,"type":"quantitative","scale":{"domain":[-345,275]},"axis":null},"y":{"datum":320,"type":"quantitative","scale":{"domain":[395,70]},"axis":null},"y2":{"datum":370}}},
   {"data":{"values":[{}]},"mark":{"type":"point","shape":"diamond","filled":true,"size":45,"color":"#222222","opacity":1},"encoding":{"x":{"datum":-53,"type":"quantitative","scale":{"domain":[-345,275]},"axis":null},"y":{"datum":335,"type":"quantitative","scale":{"domain":[395,70]},"axis":null}}}
  ]},
 {"width":207,"height":40,"layer":[
   {"data":{"values":[{"t":"Soleggiamento 21 giu - 21 dic"}]},"mark":{"type":"text","clip":true,"fontWeight":700,"fontSize":12.9,"align":"left","baseline":"middle","color":"#111111"},"encoding":{"text":{"field":"t"},"x":{"datum":24,"type":"quantitative","scale":{"domain":[0,207]},"axis":null},"y":{"datum":28,"type":"quantitative","scale":{"domain":[40,0]},"axis":null}}},
   {"data":{"values":[{"a":141,"c":158},{"a":190,"c":206}]},"mark":{"type":"rule","color":"#d04040","strokeWidth":1,"strokeDash":[1.5,1.5]},"encoding":{"x":{"field":"a","type":"quantitative","scale":{"domain":[0,207]},"axis":null},"x2":{"field":"c"},"y":{"datum":35,"type":"quantitative","scale":{"domain":[40,0]},"axis":null}}}
 ]},
 {"width":207,"height":106,"data":{"name":"sol"},
  "layer":[
   {"mark":{"type":"rule","clip":true,"strokeWidth":0.5,"opacity":0.6},"encoding":{"x":{"field":"a","type":"quantitative","scale":{"domain":[-345,275]},"axis":null},"y":{"field":"b","type":"quantitative","scale":{"domain":[400,80]},"axis":null},"x2":{"field":"c"},"y2":{"field":"d"},"color":{"field":"k","type":"nominal","legend":null,"scale":{"domain":["l","r","u","n"],"range":["#eed060","#ee4444","#7a7ae6","#bbbbbb"]}}}},
   {"data":{"values":[{"a":-345,"b":80,"c":275,"d":105},{"a":-345,"b":105,"c":-275,"d":385},{"a":-345,"b":385,"c":275,"d":400}]},"mark":{"type":"rect","color":"#eeeeee"},"encoding":{"x":{"field":"a","type":"quantitative","scale":{"domain":[-345,275]},"axis":null},"x2":{"field":"c"},"y":{"field":"b","type":"quantitative","scale":{"domain":[400,80]},"axis":null},"y2":{"field":"d"}}},
   {"data":{"values":[{}]},"mark":{"type":"rule","color":"#777777","strokeWidth":2},"encoding":{"x":{"datum":0,"type":"quantitative","scale":{"domain":[-345,275]},"axis":null},"y":{"datum":325,"type":"quantitative","scale":{"domain":[400,80]},"axis":null},"y2":{"datum":375}}},
   {"data":{"values":[{}]},"mark":{"type":"point","shape":"diamond","filled":true,"size":45,"color":"#222222","opacity":1},"encoding":{"x":{"datum":-53,"type":"quantitative","scale":{"domain":[-345,275]},"axis":null},"y":{"datum":340,"type":"quantitative","scale":{"domain":[400,80]},"axis":null}}}
  ]},
 {"width":207,"height":42,"layer":[
   {"data":{"values":[{"t":"Ombreggiamento 21 dic- 21 giu"}]},"mark":{"type":"text","clip":true,"fontWeight":700,"fontSize":12.9,"align":"left","baseline":"middle","color":"#111111"},"encoding":{"text":{"field":"t"},"x":{"datum":15,"type":"quantitative","scale":{"domain":[0,207]},"axis":null},"y":{"datum":32,"type":"quantitative","scale":{"domain":[42,0]},"axis":null}}},
   {"data":{"values":[{"a":146,"c":163},{"a":193,"c":207}]},"mark":{"type":"rule","color":"#d04040","strokeWidth":1,"strokeDash":[1.5,1.5]},"encoding":{"x":{"field":"a","type":"quantitative","scale":{"domain":[0,207]},"axis":null},"x2":{"field":"c"},"y":{"datum":39,"type":"quantitative","scale":{"domain":[42,0]},"axis":null}}}
 ]},
 {"width":207,"height":107,
  "resolve":{"scale":{"color":"independent"}},
  "layer":[
   {"data":{"name":"spokes"},"mark":{"type":"rule","clip":true,"strokeWidth":0.5,"opacity":0.7},"encoding":{"x":{"field":"a","type":"quantitative","scale":{"domain":[-345,275]},"axis":null},"y":{"field":"b","type":"quantitative","scale":{"domain":[395,75]},"axis":null},"x2":{"field":"c"},"y2":{"field":"d"},"color":{"field":"k","type":"nominal","legend":null,"scale":{"domain":["su","sl"],"range":["#c0b8d8","#9a9ae8"]}}}},
   {"data":{"name":"arch"},"mark":{"type":"line","clip":true,"interpolate":"monotone","strokeWidth":0.7,"opacity":0.9},"encoding":{"x":{"field":"x","type":"quantitative","sort":null,"scale":{"domain":[-345,275]},"axis":null},"y":{"field":"y","type":"quantitative","scale":{"domain":[395,75]},"axis":null},"color":{"field":"n","type":"nominal","legend":null,"scale":{"domain":["A","B","C","D","E"],"range":["#e6b070","#dcc890","#a0a0e0","#8888e8","#7070e0"]}}}},
   {"data":{"values":[{"a":-345,"b":75,"c":275,"d":100},{"a":-345,"b":100,"c":-275,"d":372},{"a":-345,"b":372,"c":275,"d":395}]},"mark":{"type":"rect","color":"#eeeeee"},"encoding":{"x":{"field":"a","type":"quantitative","scale":{"domain":[-345,275]},"axis":null},"x2":{"field":"c"},"y":{"field":"b","type":"quantitative","scale":{"domain":[395,75]},"axis":null},"y2":{"field":"d"}}}
  ]},
 {"width":207,"height":38,"layer":[
   {"data":{"values":[{"t":"Ombreggiamento 21 giu - 21 dic"}]},"mark":{"type":"text","clip":true,"fontWeight":700,"fontSize":12.9,"align":"left","baseline":"middle","color":"#111111"},"encoding":{"text":{"field":"t"},"x":{"datum":9,"type":"quantitative","scale":{"domain":[0,207]},"axis":null},"y":{"datum":28,"type":"quantitative","scale":{"domain":[38,0]},"axis":null}}},
   {"data":{"values":[{"a":141,"c":158},{"a":191,"c":206}]},"mark":{"type":"rule","color":"#d04040","strokeWidth":1,"strokeDash":[1.5,1.5]},"encoding":{"x":{"field":"a","type":"quantitative","scale":{"domain":[0,207]},"axis":null},"x2":{"field":"c"},"y":{"datum":33,"type":"quantitative","scale":{"domain":[38,0]},"axis":null}}}
 ]},
 {"width":207,"height":104,
  "resolve":{"scale":{"color":"independent"}},
  "layer":[
   {"data":{"name":"spokes"},"mark":{"type":"rule","clip":true,"strokeWidth":0.5,"opacity":0.7},"encoding":{"x":{"field":"a","type":"quantitative","scale":{"domain":[-345,275]},"axis":null},"y":{"field":"b","type":"quantitative","scale":{"domain":[387,75]},"axis":null},"x2":{"field":"c"},"y2":{"field":"d"},"color":{"field":"k","type":"nominal","legend":null,"scale":{"domain":["su","sl"],"range":["#e8b0b0","#9a9ae8"]}}}},
   {"data":{"name":"arch"},"mark":{"type":"line","clip":true,"interpolate":"monotone","strokeWidth":0.7,"opacity":0.9},"encoding":{"x":{"field":"x","type":"quantitative","sort":null,"scale":{"domain":[-345,275]},"axis":null},"y":{"field":"y","type":"quantitative","scale":{"domain":[387,75]},"axis":null},"color":{"field":"n","type":"nominal","legend":null,"scale":{"domain":["A","B","C","D","E"],"range":["#e88080","#e8a0a0","#e8d070","#8888e8","#7070e0"]}}}},
   {"data":{"values":[{"a":-345,"b":75,"c":275,"d":100},{"a":-345,"b":100,"c":-275,"d":372},{"a":-345,"b":372,"c":275,"d":387}]},"mark":{"type":"rect","color":"#eeeeee"},"encoding":{"x":{"field":"a","type":"quantitative","scale":{"domain":[-345,275]},"axis":null},"x2":{"field":"c"},"y":{"field":"b","type":"quantitative","scale":{"domain":[387,75]},"axis":null},"y2":{"field":"d"}}}
  ]}
]}
]
}
